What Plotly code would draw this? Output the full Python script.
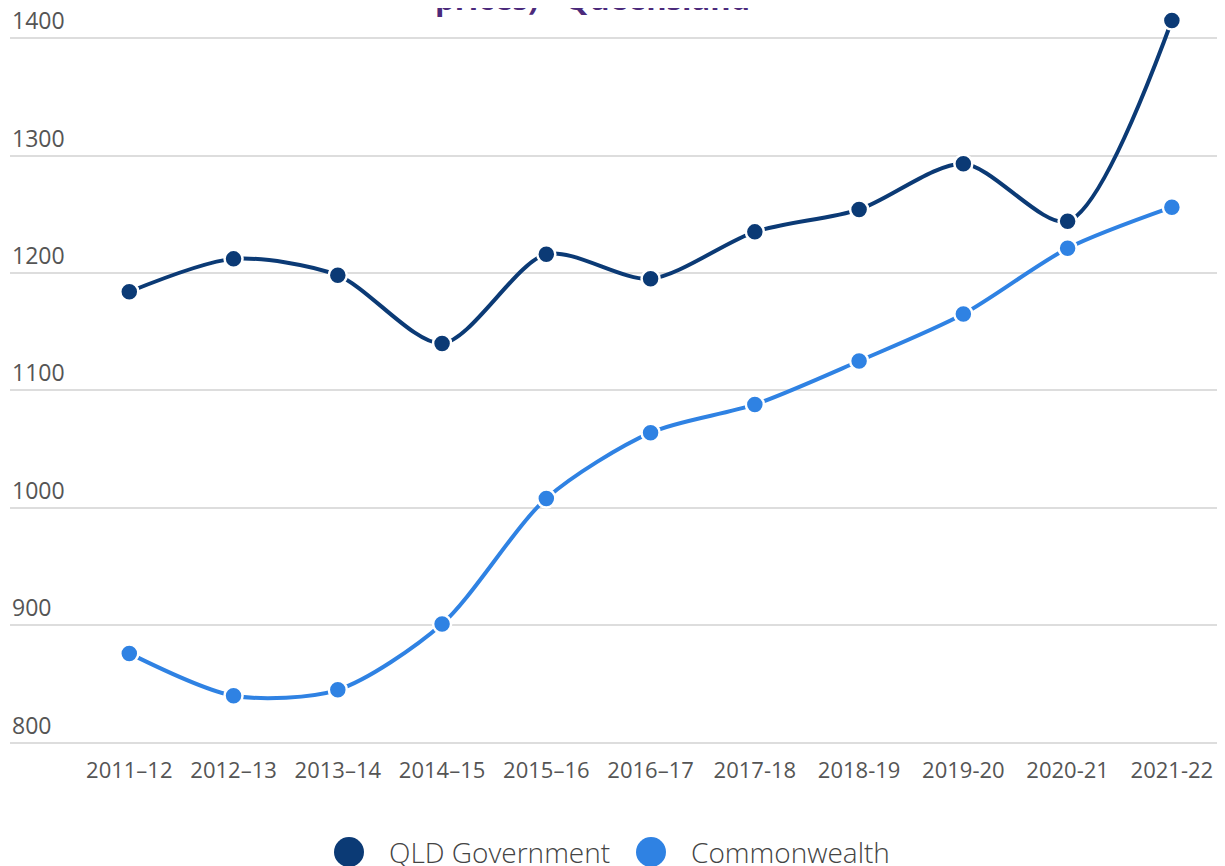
import plotly.graph_objects as go

years = ["2011–12", "2012–13", "2013–14", "2014–15", "2015–16", "2016–17",
         "2017-18", "2018-19", "2019-20", "2020-21", "2021-22"]
qld_gov = [1184, 1212, 1198, 1140, 1216, 1195, 1235, 1254, 1293, 1244, 1415]
commonwealth = [876, 840, 845, 901, 1008, 1064, 1088, 1125, 1165, 1221, 1256]
y_ticks = [800, 900, 1000, 1100, 1200, 1300, 1400]

NAVY = "#0b3a75"
BLUE = "#2f82e3"

fig = go.Figure()
xs = list(range(len(years)))
for name, vals, col in [("QLD Government", qld_gov, NAVY), ("Commonwealth", commonwealth, BLUE)]:
    fig.add_trace(go.Scatter(
        x=xs, y=vals, name=name, mode="lines+markers",
        line=dict(color=col, width=4, shape="spline", smoothing=0.8),
        marker=dict(size=18, color=col, line=dict(color="white", width=2.5)),
        cliponaxis=False, showlegend=False,
    ))

OFF = 8  # page body margin
W, H = 1217, 858
L, R, T = 2, 0, 2
B = H - (745 - OFF)
pw = W - L - R
ph = H - T - B

def px2paper(sx, sy):
    px, py = sx - OFF, sy - OFF
    return (px - L) / pw, (H - B - py) / ph

shapes = []
annotations = []
for cx, col, label, tx in [(349, NAVY, "QLD Government", 387), (651, BLUE, "Commonwealth", 689)]:
    x, y = px2paper(cx, 852)
    shapes.append(dict(type="circle", xref="paper", yref="paper", xsizemode="pixel", ysizemode="pixel",
                       xanchor=x, yanchor=y, x0=-15, x1=15, y0=-15, y1=15,
                       fillcolor=col, line=dict(width=0)))
    xt, yt = px2paper(tx, 852)
    annotations.append(dict(text=label, xref="paper", yref="paper", x=xt, y=yt, xanchor="left", yanchor="middle",
                            showarrow=False, font=dict(family="Open Sans", size=28, color="#444444", weight=300)))

for v in y_ticks:
    annotations.append(dict(text=str(v), xref="paper", yref="y", x=0, y=v, xanchor="left", yanchor="bottom",
                            showarrow=False, font=dict(family="Open Sans", size=23, color="#555555")))

tx, ty = px2paper(592, 22)
annotations.append(dict(text="Per person expenditure (2021–22<br>prices) - Queensland", xref="paper", yref="paper",
                        x=tx, y=ty, xanchor="center", yanchor="bottom", showarrow=False, yshift=1,
                        font=dict(family="Open Sans", size=31, color="#4b2a7b", weight=700)))

x0 = -(129 - 10) / 104
x1 = 10 + (1222 - 1169) / 104

fig.update_layout(
    width=W, height=H,
    margin=dict(l=L, r=R, t=T, b=B),
    plot_bgcolor="white", paper_bgcolor="white",
    shapes=shapes, annotations=annotations,
    xaxis=dict(tickmode="array", tickvals=xs, ticktext=years, range=[x0, x1],
               showgrid=False, zeroline=False, showline=False, ticks="", ticklabelstandoff=10,
               tickfont=dict(family="Open Sans", size=22, color="#555555")),
    yaxis=dict(range=[798, 800 + ph / 1.178], tickvals=y_ticks,
               showgrid=True, gridcolor="#dddddd", gridwidth=2, zeroline=False, showline=False,
               ticks="", showticklabels=False),
)

fig.write_html("out.html")
